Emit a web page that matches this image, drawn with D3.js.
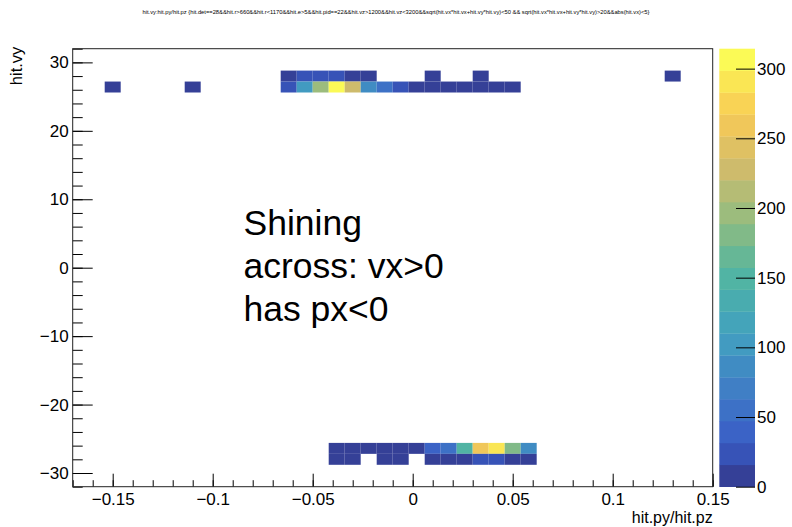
<!DOCTYPE html>
<html>
<head>
<meta charset="utf-8">
<script src="https://cdn.jsdelivr.net/npm/d3@7"></script>
<style>
  body { margin: 0; background: #fff; }
  svg { display: block; font-family: "Liberation Sans", Arial, sans-serif; }
  .axis path { display: none; }
  .axis line { stroke: #000; }
  .axis text { font-size: 17px; fill: #000; }
</style>
</head>
<body>
<svg id="chart" width="792" height="527"></svg>
<script>
// histogram binning (40 x 40)
const pxRange = [-0.17, 0.15];
const vyRange = [-32, 32];
const binW = 0.008, binH = 1.6;

// occupied bins, grouped by vy row (lower edge of the vy bin)
const rowVy = [27.2, 25.6, -27.2, -28.8];
const pxRow0 = [-0.066, -0.058, -0.050, -0.042, -0.034, -0.026, 0.006, 0.030, 0.126];
const nRow0  = [8, 24, 26, 24, 9, 8, 4, 5, 3];
const pxRow1 = [-0.154, -0.114, -0.066, -0.058, -0.050, -0.042, -0.034, -0.026, -0.018, -0.010, -0.002, 0.006, 0.014, 0.022, 0.030, 0.038, 0.046];
const nRow1  = [3, 3, 30, 105, 195, 314, 225, 85, 58, 28, 9, 10, 8, 9, 10, 8, 7];
const pxRow2 = [-0.042, -0.034, -0.026, -0.018, -0.010, -0.002, 0.006, 0.014, 0.022, 0.030, 0.038, 0.046, 0.054];
const nRow2  = [9, 10, 8, 9, 10, 9, 40, 58, 155, 262, 292, 180, 85];
const pxRow3 = [-0.042, -0.034, -0.018, -0.010, 0.006, 0.014, 0.022, 0.030, 0.038, 0.046, 0.054];
const nRow3  = [5, 6, 4, 5, 8, 9, 7, 26, 28, 8, 7];

const xTicks = [-0.15, -0.1, -0.05, 0, 0.05, 0.1, 0.15];
const yTicks = [-30, -20, -10, 0, 10, 20, 30];
const zTicks = [0, 50, 100, 150, 200, 250, 300];
const zMax = 314.3;
const nContours = 20;

const titleText = "hit.vy:hit.py/hit.pz {hit.det==28&&hit.r>660&&hit.r<1170&&hit.e>5&&hit.pid==22&&hit.vz>1200&&hit.vz<3200&&sqrt(hit.vx*hit.vx+hit.vy*hit.vy)<50 && sqrt(hit.vx*hit.vx+hit.vy*hit.vy)>20&&abs(hit.vx)<5}";
const noteLines = ["Shining", "across: vx>0", "has px<0"];

// ROOT kBird palette
const birdStops = [0, 0.125, 0.25, 0.375, 0.5, 0.625, 0.75, 0.875, 1];
const birdR = [0.2082, 0.0592, 0.0780, 0.0232, 0.1802, 0.5301, 0.8186, 0.9956, 0.9764];
const birdG = [0.1664, 0.3599, 0.5041, 0.6419, 0.7178, 0.7492, 0.7328, 0.7862, 0.9832];
const birdB = [0.5293, 0.8684, 0.8385, 0.7914, 0.6425, 0.4662, 0.3499, 0.1968, 0.0539];
const bird = d3.scaleLinear()
  .domain(birdStops)
  .range(birdStops.map((_, i) => d3.rgb(birdR[i] * 255, birdG[i] * 255, birdB[i] * 255)))
  .interpolate(d3.interpolateRgb);

// the reference render is a little washed out compared to plain kBird
const soften = c => {
  const h = d3.hcl(c);
  h.c *= 0.82;
  return h.formatHex();
};
const bandColors = d3.range(nContours).map(i => soften(bird((i + 0.99) / nContours)));
const zColor = d3.scaleQuantize().domain([0, zMax]).range(bandColors);

const frame = {left: 72.7, right: 712.7, top: 48.7, bottom: 486.7};
const svg = d3.select("#chart");

const x = d3.scaleLinear().domain(pxRange).range([frame.left, frame.right]);
const y = d3.scaleLinear().domain(vyRange).range([frame.bottom, frame.top]);

const rows = [[pxRow0, nRow0], [pxRow1, nRow1], [pxRow2, nRow2], [pxRow3, nRow3]];
const cells = rows.flatMap(([pxs, ns], r) => pxs.map((px, i) => ({px, vy: rowVy[r], n: ns[i]})));

svg.append("g").selectAll("rect")
  .data(cells)
  .join("rect")
  .attr("x", d => x(d.px))
  .attr("y", d => y(d.vy + binH))
  .attr("width", d => x(d.px + binW) - x(d.px))
  .attr("height", d => y(d.vy) - y(d.vy + binH))
  .attr("fill", d => zColor(d.n));

// axes, ROOT-style ticks inside the frame
const fmt = d3.format("~g");
svg.append("g").attr("class", "axis")
  .attr("transform", `translate(0,${frame.bottom})`)
  .call(d3.axisBottom(x).tickValues(d3.range(-17, 16).map(d => d / 100)).tickSize(-6.5).tickFormat(""));
svg.append("g").attr("class", "axis")
  .attr("transform", `translate(0,${frame.bottom})`)
  .call(d3.axisBottom(x).tickValues(xTicks).tickSize(-13).tickPadding(6).tickFormat(fmt));

svg.append("g").attr("class", "axis")
  .attr("transform", `translate(${frame.left},0)`)
  .call(d3.axisLeft(y).tickValues(d3.range(-32, 33, 2)).tickSize(-10).tickFormat(""));
svg.append("g").attr("class", "axis")
  .attr("transform", `translate(${frame.left},0)`)
  .call(d3.axisLeft(y).tickValues(yTicks).tickSize(-20).tickPadding(4).tickFormat(fmt));

svg.append("rect")
  .attr("x", frame.left).attr("y", frame.top)
  .attr("width", frame.right - frame.left).attr("height", frame.bottom - frame.top)
  .attr("fill", "none").attr("stroke", "#222").attr("stroke-width", 1);

// colour bar
const bar = {left: 719.3, right: 755};
const z = d3.scaleLinear().domain([0, zMax]).range([frame.bottom, frame.top]);
const bandStep = zMax / nContours;
svg.append("g").selectAll("rect")
  .data(bandColors)
  .join("rect")
  .attr("x", bar.left)
  .attr("width", bar.right - bar.left)
  .attr("y", (c, i) => z((i + 1) * bandStep))
  .attr("height", (c, i) => z(i * bandStep) - z((i + 1) * bandStep) + 0.3)
  .attr("fill", c => c);

svg.append("g").attr("class", "axis")
  .attr("transform", `translate(${bar.right},0)`)
  .call(d3.axisRight(z).tickValues(zTicks).tickSize(-19).tickPadding(3).tickFormat(fmt))
  .selectAll("text").attr("x", 2);

// titles
svg.append("text")
  .attr("x", 396).attr("y", 14)
  .attr("text-anchor", "middle")
  .attr("font-size", 5.4)
  .attr("textLength", 507).attr("lengthAdjust", "spacingAndGlyphs")
  .text(titleText);

svg.append("text")
  .attr("transform", `translate(22,${frame.top - 2}) rotate(-90)`)
  .attr("text-anchor", "end")
  .attr("font-size", 16.5)
  .text("hit.vy");

svg.append("text")
  .attr("x", frame.right).attr("y", 523)
  .attr("text-anchor", "end")
  .attr("font-size", 16)
  .text("hit.py/hit.pz");

svg.append("g").selectAll("text")
  .data(noteLines)
  .join("text")
  .attr("x", 243.5)
  .attr("y", (d, i) => 234.5 + i * 43.3)
  .attr("font-size", 35.5)
  .text(d => d);
</script>
</body>
</html>
